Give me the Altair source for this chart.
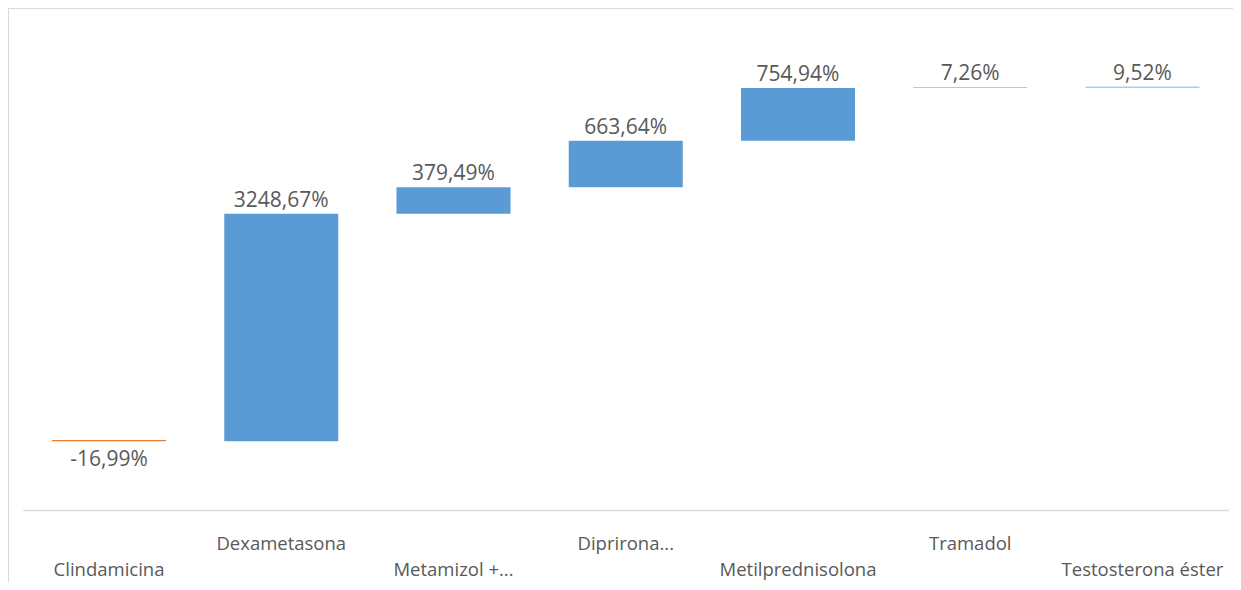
import altair as alt
import pandas as pd

categories = ["Clindamicina", "Dexametasona", "Metamizol +...", "Diprirona...",
              "Metilprednisolona", "Tramadol", "Testosterona éster"]
changes = [-16.99, 3248.67, 379.49, 663.64, 754.94, 7.26, 9.52]

starts, ends, total = [], [], 0.0
for c in changes:
    starts.append(total)
    total += c
    ends.append(total)

df = pd.DataFrame({"cat": categories, "start": starts, "end": ends, "change": changes})
df["top"] = df[["start", "end"]].max(axis=1)
df["bottom"] = df[["start", "end"]].min(axis=1)
df["label"] = [f"{v:.2f}".replace(".", ",") + "%" for v in changes]
df["sign"] = ["Negativo" if v < 0 else "Positivo" for v in changes]

W, H = 1225, 574
FONT = "Open Sans"
GRAY = "#595959"

xenc = alt.X(
    "cat:N", sort=categories,
    scale=alt.Scale(range=[14.9, 1220.6], paddingInner=0.338, paddingOuter=0.169),
    axis=alt.Axis(title=None, orient="bottom", offset=-72, domainColor="#d9d9d9",
                  domainWidth=1.5, ticks=False, tickSize=0, labelAngle=0,
                  labelFont=FONT, labelFontSize=18.5, labelColor=GRAY,
                  labelPadding=24, labelBaseline="top", labelLineHeight=26,
                  labelOverlap=False,
                  labelExpr="round(datum.index*6) % 2 == 0 ? ['', datum.label] : datum.label"),
)
yscale = alt.Scale(domain=[-2029, 6171], nice=False, zero=False)

base = alt.Chart(df)

bars = base.mark_bar().encode(
    x=xenc,
    y=alt.Y("start:Q", scale=yscale, axis=None),
    y2="end:Q",
    color=alt.Color("sign:N", scale=alt.Scale(domain=["Negativo", "Positivo"],
                                              range=["#ED7D31", "#5B9BD5"]), legend=None),
)

pos_labels = base.transform_filter("datum.change >= 0").mark_text(
    baseline="alphabetic", dy=-7, font=FONT, fontSize=21, color=GRAY
).encode(x=xenc, y=alt.Y("top:Q", scale=yscale, axis=None), text="label:N")

neg_labels = base.transform_filter("datum.change < 0").mark_text(
    baseline="top", dy=8, font=FONT, fontSize=21, color=GRAY
).encode(x=xenc, y=alt.Y("bottom:Q", scale=yscale, axis=None), text="label:N")

one = alt.Chart(pd.DataFrame({"a": [0]}))
border_top = one.mark_rule(color="#d9d9d9", strokeWidth=1).encode(
    x=alt.value(0), x2=alt.value(W), y=alt.value(0.5))
border_left = one.mark_rule(color="#d9d9d9", strokeWidth=1).encode(
    x=alt.value(0.5), y=alt.value(0), y2=alt.value(H))

chart = alt.layer(border_top, border_left, bars, pos_labels, neg_labels).properties(
    width=W, height=H, padding=0, autosize=alt.AutoSizeParams(type="none")
).configure_view(stroke=None)

chart.save("out.html", embed_options={"renderer": "svg", "actions": False})
